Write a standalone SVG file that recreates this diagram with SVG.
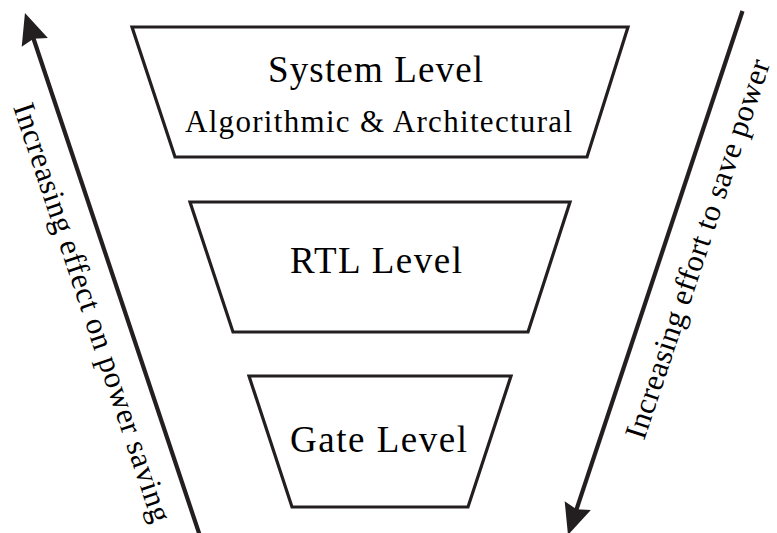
<svg xmlns="http://www.w3.org/2000/svg" width="777" height="533" viewBox="0 0 777 533">
  <defs>
    <marker id="head" markerUnits="userSpaceOnUse" orient="auto" refX="0" refY="0" markerWidth="60" markerHeight="40" viewBox="-20 -20 60 40" overflow="visible">
      <path d="M20,0 L-11,-13.8 L-7,0 L-11,13.8 Z" fill="#231f20"/>
    </marker>
  </defs>

  <g id="system-level">
    <polygon points="132,27 628,27 587,157 175,157" fill="#ffffff" stroke="#231f20" stroke-width="3.2"/>
    <text x="268" y="82" font-family="'Liberation Serif', serif" font-size="37" textLength="215">System Level</text>
    <text x="185" y="132" font-family="'Liberation Serif', serif" font-size="31" textLength="387">Algorithmic &amp; Architectural</text>
  </g>

  <g id="rtl-level">
    <polygon points="190,202 570,202 528,332 233,332" fill="#ffffff" stroke="#231f20" stroke-width="3.2"/>
    <text x="290" y="273" font-family="'Liberation Serif', serif" font-size="37" textLength="172">RTL Level</text>
  </g>

  <g id="gate-level">
    <polygon points="249,376 511,376 468,507 292,507" fill="#ffffff" stroke="#231f20" stroke-width="3.2"/>
    <text x="290" y="452" font-family="'Liberation Serif', serif" font-size="37" textLength="177">Gate Level</text>
  </g>

  <g id="connectors">
    <line x1="201" y1="539" x2="31.3" y2="32" stroke="#231f20" stroke-width="4.2" marker-end="url(#head)"/>
    <line x1="742.5" y1="11" x2="574.3" y2="516" stroke="#231f20" stroke-width="4.2" marker-end="url(#head)"/>
  </g>

  <g id="axis-labels">
    <text transform="translate(13,107) rotate(71.5)" font-family="'Liberation Serif', serif" font-size="31" textLength="440">Increasing effect on power saving</text>
    <text transform="translate(644,441) rotate(-71.5)" font-family="'Liberation Serif', serif" font-size="31" textLength="398">Increasing effort to save power</text>
  </g>
</svg>
